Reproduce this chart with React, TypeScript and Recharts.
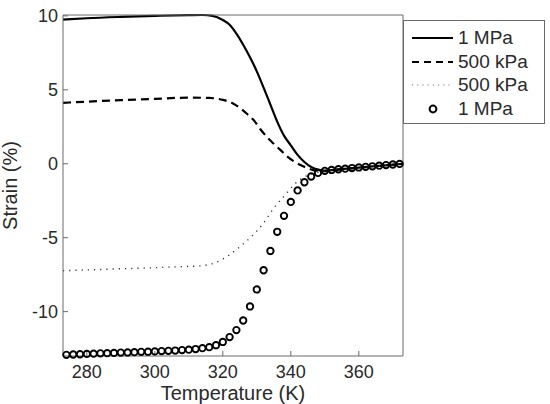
import React from "react";
import { ComposedChart, Line, Scatter, XAxis, YAxis, Legend } from "recharts";

const tempTicks = [280, 300, 320, 340, 360];
const strainTicks = [-10, -5, 0, 5, 10];
const seriesNames = ["1 MPa", "500 kPa", "500 kPa", "1 MPa"];

// solid: 1 MPa
const solidTemps = [273, 280, 290, 300, 310, 314, 317, 320, 322, 324, 326, 328, 330, 332, 334, 336, 338, 340, 342, 344, 346, 348, 350, 354, 360, 366, 373];
const solidStrain = [9.75, 9.84, 9.93, 10.0, 10.05, 10.06, 10.0, 9.72, 9.4, 8.8, 8.05, 7.2, 6.25, 5.15, 4.0, 2.85, 1.9, 1.25, 0.6, 0.12, -0.22, -0.4, -0.46, -0.38, -0.26, -0.14, 0.0];

// dashed: 500 kPa
const dashTemps = [273, 280, 290, 300, 310, 316, 320, 323, 325, 327, 329, 331, 333, 335, 337, 339, 341, 343, 345, 347, 350, 354, 360, 366, 373];
const dashStrain = [4.12, 4.2, 4.3, 4.39, 4.47, 4.45, 4.32, 4.08, 3.78, 3.4, 2.97, 2.35, 1.8, 1.35, 0.92, 0.48, 0.15, -0.1, -0.3, -0.45, -0.5, -0.4, -0.27, -0.15, 0.0];

// dotted: 500 kPa
const dotTemps = [273, 280, 290, 300, 305, 310, 314, 317, 320, 322, 324, 326, 328, 330, 332, 335, 338, 341, 344, 347, 350, 355, 360, 366, 373];
const dotStrain = [-7.23, -7.18, -7.1, -7.03, -6.98, -6.94, -6.89, -6.75, -6.45, -6.15, -5.8, -5.42, -5.02, -4.55, -4.0, -3.0, -2.2, -1.4, -0.9, -0.62, -0.48, -0.36, -0.26, -0.14, -0.02];

// circles: 1 MPa
const circleTemps = [274, 276, 278, 280, 282, 284, 286, 288, 290, 292, 294, 296, 298, 300, 302, 304, 306, 308, 310, 312, 314, 316, 318, 320, 322, 324, 326, 328, 330, 332, 334, 336, 338, 340, 342, 344, 346, 348, 350, 352, 354, 356, 358, 360, 362, 364, 366, 368, 370, 372];
const circleStrain = [-12.92, -12.9, -12.88, -12.86, -12.84, -12.82, -12.81, -12.79, -12.77, -12.76, -12.74, -12.72, -12.71, -12.69, -12.67, -12.65, -12.63, -12.6, -12.57, -12.53, -12.47, -12.4, -12.27, -12.05, -11.72, -11.25, -10.6, -9.65, -8.5, -7.2, -5.9, -4.6, -3.52, -2.58, -1.8, -1.25, -0.86, -0.62, -0.48, -0.42, -0.37, -0.33, -0.29, -0.25, -0.21, -0.17, -0.13, -0.09, -0.05, -0.01];

const toRows = (ts: number[], vs: number[]) => ts.map((t, i) => ({ t, v: vs[i] }));

const font = "'Liberation Sans', Arial, sans-serif";
const axisGray = "#6a6a6a";
const textColor = "#2a2a2a";
const tickStyle = { fontFamily: font, fontSize: 18, fill: textColor };
const labelStyle = { fontFamily: font, fontSize: 20, fill: textColor, textAnchor: "middle" };

const Ring = (props: any) => (
  <circle cx={props.cx} cy={props.cy} r={3.2} fill="none" stroke="#000" strokeWidth={1.9} />
);

const legendIcon = (i: number) => {
  if (i === 0) return <line x1={0} y1={6} x2={41} y2={6} stroke="#000" strokeWidth={2} />;
  if (i === 1) return <line x1={0} y1={6} x2={41} y2={6} stroke="#000" strokeWidth={2} strokeDasharray="7 5" />;
  if (i === 2) return <line x1={0} y1={6} x2={41} y2={6} stroke="#777" strokeWidth={1.2} strokeDasharray="1.2 4" />;
  return <circle cx={21} cy={6} r={3.4} fill="none" stroke="#000" strokeWidth={2} />;
};

const LegendBox = () => (
  <div
    style={{
      width: 140,
      border: `1px solid ${axisGray}`,
      background: "#fff",
      padding: "5px 0 2px 0",
      fontFamily: font,
      fontSize: 19,
      color: textColor,
    }}
  >
    {seriesNames.map((name, i) => (
      <div key={i} style={{ display: "flex", alignItems: "center", height: 23.7 }}>
        <svg width={41} height={12} style={{ marginLeft: 8, marginRight: 5 }}>
          {legendIcon(i)}
        </svg>
        <span>{name}</span>
      </div>
    ))}
  </div>
);

export default function App() {
  return (
    <div style={{ position: "absolute", left: 0, top: 0 }}>
      <ComposedChart width={550} height={404} margin={{ top: 14, right: 146, bottom: 0, left: 0 }}>
        <XAxis
          dataKey="t"
          type="number"
          domain={[273, 373]}
          ticks={tempTicks}
          height={48}
          tickSize={-5}
          tickMargin={14}
          stroke={axisGray}
          tick={tickStyle}
          label={{ value: "Temperature (K)", position: "insideBottom", offset: 4, style: labelStyle }}
        />
        <XAxis xAxisId="top" dataKey="t" type="number" domain={[273, 373]} orientation="top" height={1} tick={false} tickLine={false} stroke={axisGray} />
        <YAxis
          type="number"
          domain={[-13, 10]}
          ticks={strainTicks}
          width={63}
          tickSize={-5}
          tickMargin={10}
          stroke={axisGray}
          tick={tickStyle}
          label={{ value: "Strain (%)", angle: -90, position: "insideLeft", offset: 10, style: labelStyle }}
        />
        <YAxis yAxisId="right" type="number" domain={[-13, 10]} orientation="right" width={1} tick={false} tickLine={false} stroke={axisGray} />
        <Legend
          layout="vertical"
          align="center"
          verticalAlign="middle"
          content={<LegendBox />}
          wrapperStyle={{ left: 403, top: 20, width: 142 }}
        />
        <Line data={toRows(solidTemps, solidStrain)} dataKey="v" type="monotone" stroke="#000" strokeWidth={2.2} dot={false} isAnimationActive={false} />
        <Line data={toRows(dashTemps, dashStrain)} dataKey="v" type="monotone" stroke="#000" strokeWidth={2.2} strokeDasharray="8 5" dot={false} isAnimationActive={false} />
        <Line data={toRows(dotTemps, dotStrain)} dataKey="v" type="monotone" stroke="#333" strokeWidth={1.4} strokeDasharray="1.2 5" dot={false} isAnimationActive={false} />
        <Scatter data={toRows(circleTemps, circleStrain)} dataKey="v" shape={<Ring />} isAnimationActive={false} />
      </ComposedChart>
    </div>
  );
}
